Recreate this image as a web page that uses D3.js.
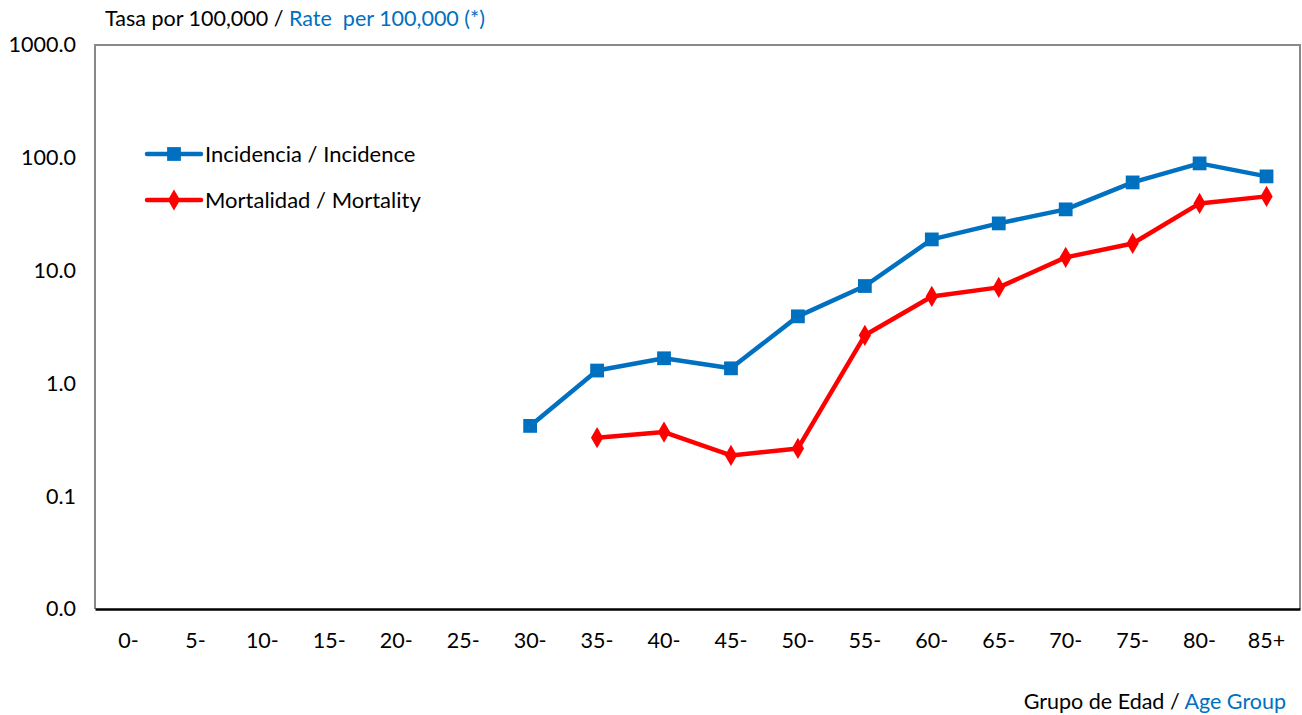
<!DOCTYPE html>
<html><head><meta charset="utf-8">
<script src="https://cdn.jsdelivr.net/npm/d3@7"></script>
<style>body{margin:0;background:#fff}svg{display:block}text{font-family:Lato,"Open Sans",sans-serif}</style>
</head><body><svg id="c" width="1302" height="715"></svg>
<script>
const categories = ["0-","5-","10-","15-","20-","25-","30-","35-","40-","45-","50-","55-","60-","65-","70-","75-","80-","85+"];
const incidence = [null,null,null,null,null,null,0.42,1.30,1.67,1.36,3.93,7.3,18.9,26.2,34.9,60.5,89.2,68.4];
const mortality = [null,null,null,null,null,null,null,0.33,0.37,0.23,0.265,2.67,5.9,7.1,13.1,17.4,39.4,45.5];
const yTicks = [0.01,0.1,1,10,100,1000];
const yTickLabels = ["0.0","0.1","1.0","10.0","100.0","1000.0"];
const seriesNames = ["Incidencia / Incidence","Mortalidad / Mortality"];

const svg = d3.select("#c");
const L=95, T=45, R=1300, B=609;
const x = d3.scaleBand().domain(categories).range([L,R]).padding(0);
const y = d3.scaleLog().domain([0.01,1000]).range([B,T]);
const FS = 21.5;

// frame
svg.append("path").attr("d",`M${L},${B}V${T}H${R}V${B}`).attr("fill","none").attr("stroke","#898989").attr("stroke-width",2);

// y axis
const ya = svg.append("g").attr("transform",`translate(${L},0)`)
  .call(d3.axisLeft(y).tickValues(yTicks).tickFormat((d,i)=>yTickLabels[i]).tickSize(0).tickPadding(19));
ya.select(".domain").remove();
ya.selectAll("text").attr("font-size",FS).attr("fill","#000").attr("font-family","Lato");

// x axis
const xa = svg.append("g").attr("transform",`translate(0,${B})`)
  .call(d3.axisBottom(x).tickSize(0).tickPadding(24));
xa.select(".domain").attr("stroke","#000").attr("stroke-width",2.5);
xa.selectAll("text").attr("font-size",FS).attr("fill","#000").attr("font-family","Lato");

const blue="#0070C0", red="#FF0000";
const cx = c => x(c)+x.bandwidth()/2;
const line = d3.line().defined(d=>d.v!=null).x(d=>cx(d.c)).y(d=>y(d.v));
const inc = categories.map((c,i)=>({c,v:incidence[i]}));
const mor = categories.map((c,i)=>({c,v:mortality[i]}));

svg.append("path").datum(inc).attr("d",line).attr("fill","none").attr("stroke",blue).attr("stroke-width",4.5).attr("stroke-linejoin","round");
svg.append("path").datum(mor).attr("d",line).attr("fill","none").attr("stroke",red).attr("stroke-width",4.5).attr("stroke-linejoin","round");

const sq = d3.symbol().type(d3.symbolSquare).size(190);
const dm = d3.symbol().type(d3.symbolDiamond).size(130);
svg.selectAll(".mi").data(inc.filter(d=>d.v!=null)).join("path")
  .attr("d",sq).attr("fill",blue).attr("transform",d=>`translate(${cx(d.c)},${y(d.v)})`);
svg.selectAll(".mm").data(mor.filter(d=>d.v!=null)).join("path")
  .attr("d",dm).attr("fill",red).attr("transform",d=>`translate(${cx(d.c)},${y(d.v)})`);

// legend
const lg = [{n:seriesNames[0],c:blue,s:sq,y:154},{n:seriesNames[1],c:red,s:dm,y:200}];
lg.forEach(d=>{
  svg.append("line").attr("x1",147).attr("x2",201).attr("y1",d.y).attr("y2",d.y).attr("stroke",d.c).attr("stroke-width",4.5).attr("stroke-linecap","round");
  svg.append("path").attr("d",d.s).attr("fill",d.c).attr("transform",`translate(174,${d.y})`);
  svg.append("text").attr("x",205).attr("y",d.y).attr("dy","0.35em").attr("font-size",22).attr("fill","#000").text(d.n);
});

// axis titles
const t1 = svg.append("text").attr("x",105).attr("y",26).attr("font-size",21.5);
t1.append("tspan").attr("fill","#000").text("Tasa por 100,000 / ");
t1.append("tspan").attr("fill",blue).attr("xml:space","preserve").text("Rate  per 100,000 (*)");

const t2 = svg.append("text").attr("x",1286).attr("y",709).attr("text-anchor","end").attr("font-size",21.5);
t2.append("tspan").attr("fill","#000").text("Grupo de Edad / ");
t2.append("tspan").attr("fill",blue).text("Age Group");
</script></body></html>
